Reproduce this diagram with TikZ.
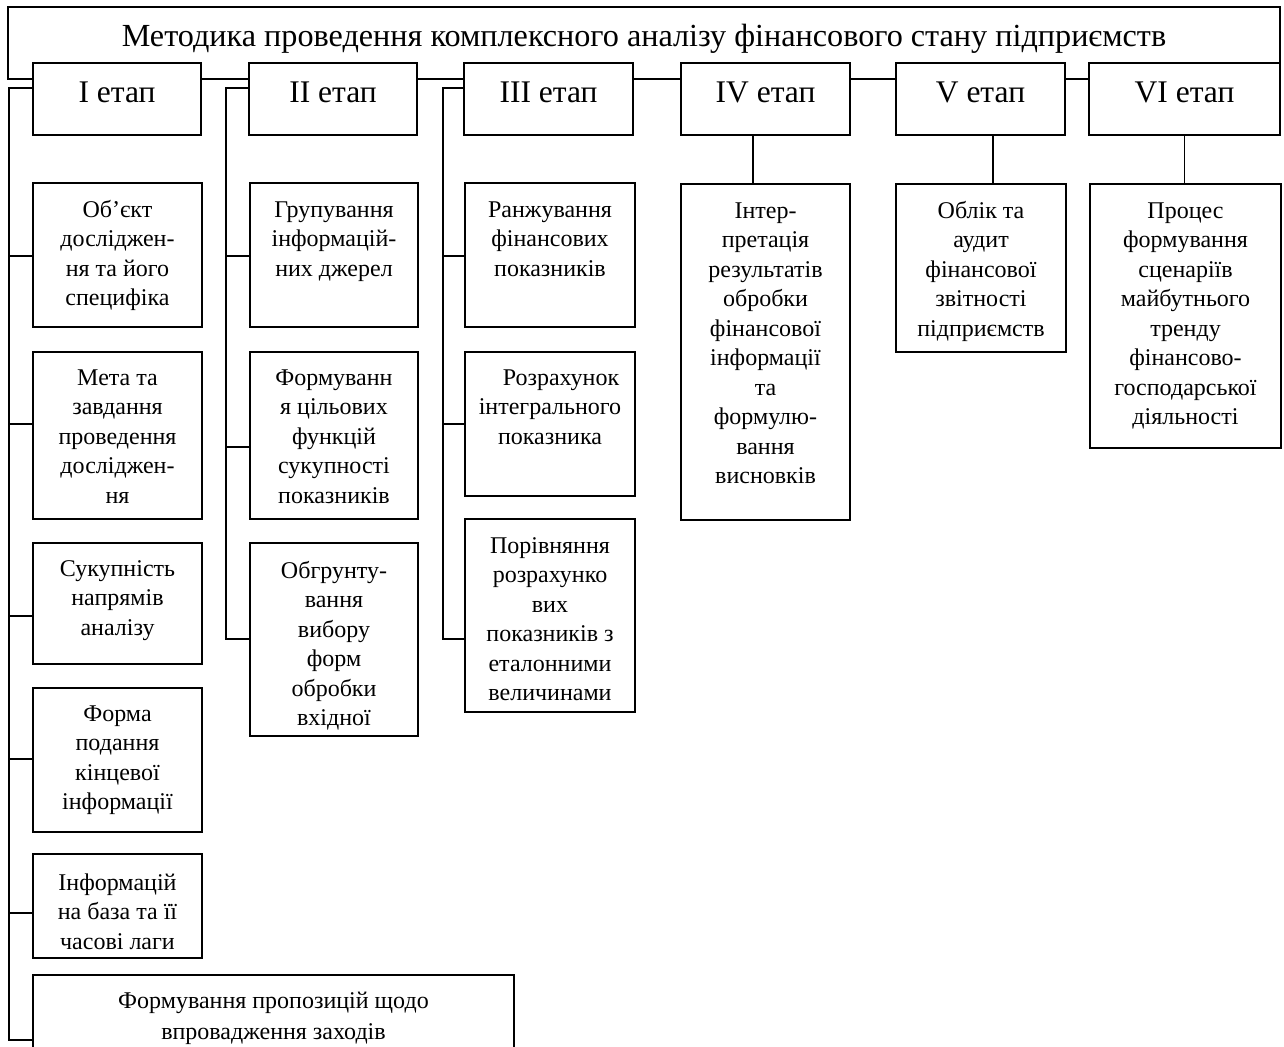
\documentclass[tikz,border=0pt]{standalone}
\usepackage{fontspec}
\setmainfont{Liberation Serif}
\newcommand\bxtext[5][29.5]{\parbox[c][#3pt][t]{#2pt}{\centering\fontsize{24}{#1}\selectfont\rule{0pt}{#4pt}#5\par}}
\newcommand\sttext[3]{\parbox[c][#2pt][t]{#1pt}{\centering\fontsize{31.5}{36}\selectfont\rule{0pt}{40pt}#3\par}}
\tikzset{
  every node/.style={inner sep=0pt, outer sep=0pt},
  frame/.style={draw, line width=1.5pt, fill=white, anchor=north west},
  conn/.style={line width=1.5pt},
}
\begin{document}
\begin{tikzpicture}[x=1pt, y=-1pt]
\useasboundingbox (0,0) rectangle (1284,1046);
\clip (0,0) rectangle (1284,1046);
% title
\node[frame] (T) at (8,7) {\parbox[c][72pt][t]{1272pt}{\centering\fontsize{32.2}{38}\selectfont\rule{0pt}{40pt}Методика проведення комплексного аналізу фінансового стану підприємств\par}};
% stages
\node[frame] (s1) at (33,63)   {\sttext{168}{72}{I етап}};
\node[frame] (s2) at (249,63)  {\sttext{168}{72}{II етап}};
\node[frame] (s3) at (464,63)  {\sttext{169}{72}{III етап}};
\node[frame] (s4) at (681,63)  {\sttext{169}{72}{IV етап}};
\node[frame] (s5) at (896,63)  {\sttext{169}{72}{V етап}};
\node[frame] (s6) at (1089,63) {\sttext{191}{72}{VI етап}};
% column I
\node[frame] (o1) at (33,183) {\bxtext{169}{144}{34}{Об’єкт\\досліджен-\\ня та його\\специфіка}};
\node[frame] (o2) at (33,352) {\bxtext{169}{167}{33}{Мета та\\завдання\\проведення\\досліджен-\\ня}};
\node[frame] (o3) at (33,543) {\bxtext{169}{121}{33}{Сукупність\\напрямів\\аналізу}};
\node[frame] (o4) at (33,688) {\bxtext{169}{144}{33}{Форма\\подання\\кінцевої\\інформації}};
\node[frame] (o5) at (33,854) {\bxtext{169}{104}{36}{Інформацій\\на база та її\\часові лаги}};
\node[frame] (o6) at (33,975) {\bxtext[31.5]{481}{110}{33}{Формування пропозицій щодо\\впровадження заходів}};
% column II
\node[frame] (g1) at (250,183) {\bxtext{168}{144}{34}{Групування\\інформацій-\\них джерел}};
\node[frame] (g2) at (250,352) {\bxtext{168}{167}{33}{Формуванн\\я цільових\\функцій\\сукупності\\показників}};
\node[frame] (g3) at (250,543) {\bxtext{168}{193}{35}{Обгрунту-\\вання\\вибору\\форм\\обробки\\вхідної}};
% column III
\node[frame] (r1) at (465,183) {\bxtext{170}{144}{34}{Ранжування\\фінансових\\показників}};
\node[frame] (r2) at (465,352) {\bxtext{170}{144}{33}{\hspace*{22pt}Розрахунок\\інтегрального\\показника}};
\node[frame] (r3) at (465,519) {\bxtext{170}{193}{34}{Порівняння\\розрахунко\\вих\\показників з\\еталонними\\величинами}};
% columns IV-VI
\node[frame] (c4) at (681,184)  {\bxtext{169}{336}{34}{Інтер-\\претація\\результатів\\обробки\\фінансової\\інформації\\та\\формулю-\\вання\\висновків}};
\node[frame] (c5) at (896,184)  {\bxtext{170}{168}{34}{Облік та\\аудит\\фінансової\\звітності\\підприємств}};
\node[frame] (c6) at (1090,184) {\bxtext{191}{264}{34}{Процес\\формування\\сценаріїв\\майбутнього\\тренду\\фінансово-\\господарської\\діяльності}};
% stem I
\coordinate (a0) at (9,88);
\coordinate (a1) at (9,256);
\coordinate (a2) at (9,424);
\coordinate (a3) at (9,616);
\coordinate (a4) at (9,759);
\coordinate (a5) at (9,913);
\coordinate (a6) at (9,1040);
\draw[conn] (a0 -| s1.west) -- (a0) -- (a6) -- (a6 -| o6.west);
\draw[conn] (a1) -- (a1 -| o1.west);
\draw[conn] (a2) -- (a2 -| o2.west);
\draw[conn] (a3) -- (a3 -| o3.west);
\draw[conn] (a4) -- (a4 -| o4.west);
\draw[conn] (a5) -- (a5 -| o5.west);
% stem II
\coordinate (b0) at (226,88);
\coordinate (b1) at (226,256);
\coordinate (b2) at (226,447);
\coordinate (b3) at (226,639);
\draw[conn] (b0 -| s2.west) -- (b0) -- (b3) -- (b3 -| g3.west);
\draw[conn] (b1) -- (b1 -| g1.west);
\draw[conn] (b2) -- (b2 -| g2.west);
% stem III
\coordinate (d0) at (443,88);
\coordinate (d1) at (443,256);
\coordinate (d2) at (443,424);
\coordinate (d3) at (443,639);
\draw[conn] (d0 -| s3.west) -- (d0) -- (d3) -- (d3 -| r3.west);
\draw[conn] (d1) -- (d1 -| r1.west);
\draw[conn] (d2) -- (d2 -| r2.west);
% stems IV-VI
\draw[conn] ([xshift=-12.5pt]s4.south) -- ([xshift=-12.5pt]s4.south |- c4.north);
\draw[conn] ([xshift=12.5pt]s5.south) -- ([xshift=12.5pt]s5.south |- c5.north);
\draw[conn] (s6.south) -- (s6.south |- c6.north);
\end{tikzpicture}
\end{document}
